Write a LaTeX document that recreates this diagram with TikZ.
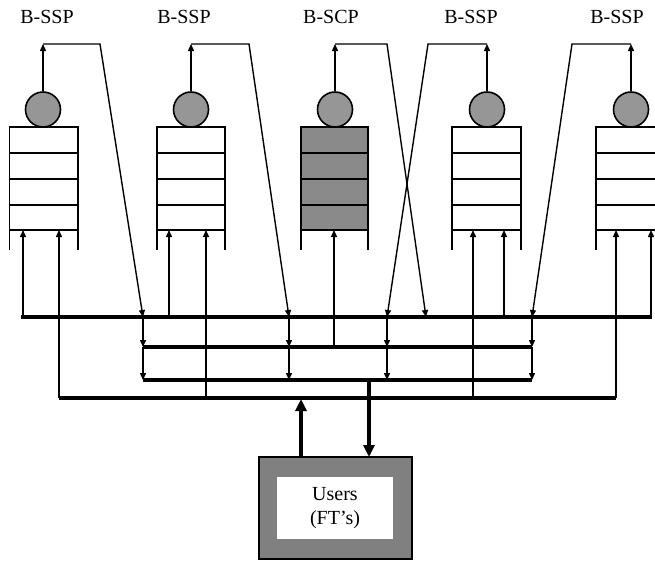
\documentclass[tikz,border=0pt]{standalone}
\usepackage{fontspec}
\setmainfont{Liberation Serif}
\usetikzlibrary{arrows.meta}
\definecolor{srvgray}{RGB}{150,150,150}
\definecolor{boxgray}{RGB}{138,138,138}
\definecolor{usergray}{RGB}{128,128,128}
\tikzset{
  thinline/.style={line width=1.4pt},
  qline/.style={line width=1.6pt},
  arr/.style={-{Triangle[length=7pt,width=6pt]}},
  bigarr/.style={line width=3.5pt,-{Triangle[length=12pt,width=11pt]}},
  server/.style={circle,draw,line width=1.6pt,fill=srvgray,minimum size=35pt,inner sep=0pt},
  lbl/.style={font=\fontsize{20}{22}\selectfont,anchor=base,inner sep=0pt},
  busA/.style={line width=3.6pt},
  busB/.style={line width=3.3pt},
  busC/.style={line width=3.3pt},
}
\newcommand\myqueue[5]{% name, left, right, fill, server x
  \fill[#4] (#2,127) rectangle (#3,230);
  \draw[qline] (#2,250) -- (#2,127) -- (#3,127) -- (#3,250);
  \foreach \yy in {153,179,205,230} \draw[qline] (#2,\yy) -- (#3,\yy);
  \node[server] (#1s) at (#5,109.5) {};
  \coordinate (#1top) at (#5,44);
}
\begin{document}
\begin{tikzpicture}[x=1pt,y=-1pt]
\useasboundingbox (0,0) rectangle (655,560);
% labels
\node[lbl] (l1) at (47,23) {B-SSP};
\node[lbl] (l2) at (184,23) {B-SSP};
\node[lbl] (l3) at (331,23) {B-SCP};
\node[lbl] (l4) at (471,23) {B-SSP};
\node[lbl] (l5) at (617,23) {B-SSP};
% queues
\myqueue{Qa}{9.5}{78}{white}{43}
\myqueue{Qb}{157}{225}{white}{191}
\myqueue{Qc}{301}{368}{boxgray}{335}
\myqueue{Qd}{452}{521}{white}{487}
\myqueue{Qe}{596}{664}{white}{631}
% bus coordinates
\coordinate (b1L) at (21,317);  \coordinate (b1R) at (652,317);
\coordinate (b2L) at (143,347); \coordinate (b2R) at (532,347);
\coordinate (b3L) at (143,380); \coordinate (b3R) at (532,380);
\coordinate (b4L) at (59,398);  \coordinate (b4R) at (616,398);
% server outputs
\foreach \q/\bx/\dx in {Qa/100/143, Qb/249/289, Qc/387/426, Qd/428/387, Qe/572/532}{
  \draw[thinline,arr] (\q s.north) -- (\q top);
  \coordinate (\q bend) at (\bx,44);
  \coordinate (\q drop) at (\dx,317);
  \draw[thinline,arr] (\q top) -- (\q bend) -- (\q drop);
}
% inputs to queues
\foreach \x/\y in {23/317, 59/398, 169/317, 206/398, 334/347, 473/398, 504/317, 616/398, 651/317}{
  \coordinate (in\x) at (\x,\y);
  \coordinate (inq\x) at (\x,230);
  \draw[thinline,arr] (in\x) -- (inq\x);
}
% vertical arrows between buses
\foreach \x in {143,289,387,532}{
  \coordinate (v1\x) at (\x,317);
  \coordinate (v2\x) at (\x,347);
  \coordinate (v3\x) at (\x,380);
  \draw[thinline,arr] (v1\x) -- (v2\x);
  \draw[thinline,arr] (v2\x) -- (v3\x);
}
% buses
\draw[busA] (b1L) -- (b1R);
\draw[busB] (b2L) -- (b2R);
\draw[busB] (b3L) -- (b3R);
\draw[busC] (b4L) -- (b4R);
% users
\fill[usergray] (259,457) rectangle (412,559);
\draw[line width=1.6pt] (259,457) rectangle (412,559);
\node[fill=white,minimum width=116pt,minimum height=62pt,inner sep=0pt,align=center,
  font=\fontsize{20}{24}\selectfont] (users) at (335,508) {Users\\(FT's)};
\coordinate (uUp) at (301,457);
\coordinate (uUpEnd) at (301,399);
\coordinate (uDn) at (369,380);
\coordinate (uDnEnd) at (369,457);
\draw[bigarr] (uUp) -- (uUpEnd);
\draw[bigarr] (uDn) -- (uDnEnd);
\end{tikzpicture}
\end{document}
